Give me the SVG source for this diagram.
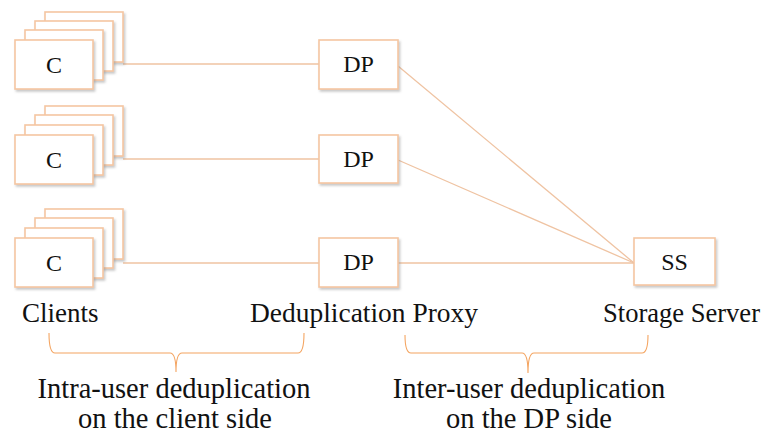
<svg xmlns="http://www.w3.org/2000/svg" width="766" height="438" viewBox="0 0 766 438">
<style>
.box{fill:#ffffff;stroke:#F5C6A2;stroke-width:1.6;filter:url(#sh)}
.t{font-family:"Liberation Serif","Times New Roman",serif;fill:#111;text-anchor:middle}
.lbl{font-family:"Liberation Serif","Times New Roman",serif;fill:#111}
.conn{stroke:#EFC3A2;stroke-width:1.3;fill:none}
.brace{stroke:#F4A460;stroke-width:1.1;fill:none}
</style>
<defs>
<filter id="sh" x="-10%" y="-10%" width="130%" height="140%">
<feDropShadow dx="1.5" dy="2" stdDeviation="1" flood-color="#888" flood-opacity="0.45"/>
</filter>
</defs>
<rect width="766" height="438" fill="#ffffff"/>
<g id="connectors">
<line class="conn" x1="123" y1="64" x2="319" y2="64"/>
<line class="conn" x1="123" y1="159" x2="319" y2="159"/>
<line class="conn" x1="123" y1="263" x2="319" y2="263"/>
<line class="conn" x1="398" y1="66" x2="634" y2="263"/>
<line class="conn" x1="398" y1="160" x2="634" y2="263"/>
<line class="conn" x1="398" y1="263" x2="634" y2="263"/>
</g>
<g id="clients1">
<rect class="box" x="45" y="12" width="78" height="50"/>
<rect class="box" x="35" y="21" width="78" height="50"/>
<rect class="box" x="25" y="30" width="78" height="50"/>
<rect class="box" x="15" y="40" width="78" height="49"/>
<text class="t" x="54" y="73" font-size="24">C</text>
</g>
<g id="clients2">
<rect class="box" x="45" y="106" width="78" height="50"/>
<rect class="box" x="35" y="115" width="78" height="50"/>
<rect class="box" x="25" y="125" width="78" height="50"/>
<rect class="box" x="15" y="135" width="78" height="49"/>
<text class="t" x="54" y="168" font-size="24">C</text>
</g>
<g id="clients3">
<rect class="box" x="45" y="209" width="78" height="50"/>
<rect class="box" x="35" y="218" width="78" height="50"/>
<rect class="box" x="25" y="228" width="78" height="50"/>
<rect class="box" x="15" y="238" width="78" height="49"/>
<text class="t" x="54" y="271" font-size="24">C</text>
</g>
<g id="dp1">
<rect class="box" x="319" y="40" width="79" height="49"/>
<text class="t" x="358.5" y="72" font-size="24">DP</text>
</g>
<g id="dp2">
<rect class="box" x="319" y="135" width="79" height="48"/>
<text class="t" x="358.5" y="167" font-size="24">DP</text>
</g>
<g id="dp3">
<rect class="box" x="319" y="238" width="79" height="49"/>
<text class="t" x="358.5" y="270" font-size="24">DP</text>
</g>
<g id="ss">
<rect class="box" x="634" y="238" width="81" height="47"/>
<text class="t" x="674.5" y="270" font-size="24">SS</text>
</g>
<g id="labels">
<text class="lbl" x="22" y="322" font-size="27">Clients</text>
<text class="lbl" x="250" y="322" font-size="27" textLength="228" lengthAdjust="spacingAndGlyphs">Deduplication Proxy</text>
<text class="lbl" x="603" y="322" font-size="27" textLength="157" lengthAdjust="spacingAndGlyphs">Storage Server</text>
</g>
<g id="brace1">
<path class="brace" d="M49,333 Q49,353 55,353 L170,353 Q176,353 176,372 Q176,353 182,353 L298,353 Q304,353 304,333"/>
<text class="t" x="174" y="398" font-size="28.5">Intra-user deduplication</text>
<text class="t" x="175" y="428" font-size="28.5">on the client side</text>
</g>
<g id="brace2">
<path class="brace" d="M405,335 Q405,353 411,353 L522,353 Q528,353 528,373 Q528,353 534,353 L642,353 Q648,353 648,335"/>
<text class="t" x="529" y="398" font-size="28.5">Inter-user deduplication</text>
<text class="t" x="529" y="428" font-size="28.5">on the DP side</text>
</g>
</svg>
